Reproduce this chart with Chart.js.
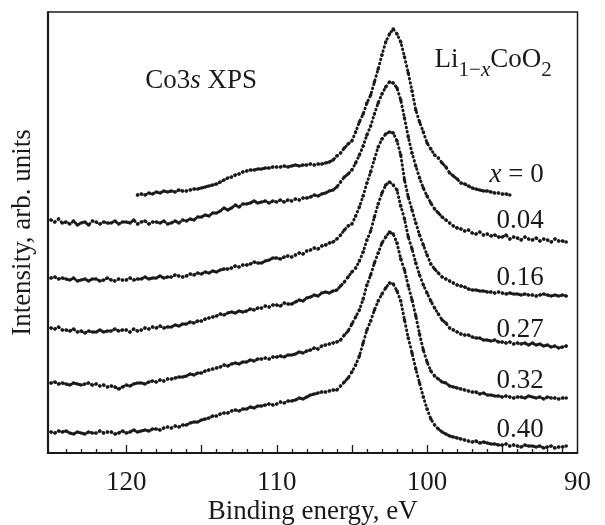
<!DOCTYPE html>
<html>
<head>
<meta charset="utf-8">
<title>Co3s XPS of Li1-xCoO2</title>
<script src="https://cdn.jsdelivr.net/npm/chart.js@4"></script>
<style>
  html, body { margin: 0; padding: 0; background: #fff; }
  #wrap { width: 605px; height: 525px; }
</style>
</head>
<body>
<div id="wrap"><canvas id="chart" width="605" height="525"></canvas></div>
<script>
'use strict';

// binding energy grid of the spectra, eV (125.0 down to 90.75 in 0.25 eV steps)
const energies = Array.from({ length: 138 }, (_, i) => 125 - 0.25 * i);

// series names (x in Li1-xCoO2)
const seriesNames = ['x = 0', '0.04', '0.16', '0.27', '0.32', '0.40'];

// intensity, arb. units (spectra stacked with offsets); 8 values per 2 eV row
const x000 = [
  null, null, null, null, null, null, null, null,
  null, null, null, null, null, null, null, null,
  null, null, null, null, null, null, null, 258,
  259, 258, 260, 259, 261, 260, 262, 261,
  262, 261, 263, 262, 262, 263, 264, 264,
  265, 266, 267, 268, 269, 271, 273, 275,
  276, 278, 279, 281, 282, 283, 283, 284,
  284, 285, 285, 286, 286, 286, 287, 286,
  287, 288, 287, 288, 288, 289, 288, 289,
  289, 290, 291, 293, 297, 300, 305, 309,
  312, 321, 331, 339, 350, 358, 371, 384,
  398, 411, 419, 424, 419, 411, 396, 380,
  362, 343, 331, 321, 310, 304, 298, 295,
  290, 286, 280, 277, 274, 270, 269, 267,
  265, 264, 263, 262, 262, 261, 260, 260,
  259, 259, 258, null, null, null, null, null,
  null, null, null, null, null, null, null, null,
  null, null
];
const x004 = [
  233, 231, 234, 230, 231, 229, 232, 228,
  230, 231, 228, 232, 231, 229, 231, 230,
  230, 232, 229, 231, 231, 230, 233, 229,
  231, 232, 229, 231, 231, 230, 232, 229,
  230, 232, 230, 233, 232, 234, 233, 236,
  236, 238, 237, 240, 240, 242, 245, 243,
  245, 248, 246, 249, 249, 250, 252, 250,
  251, 252, 250, 252, 251, 253, 251, 253,
  252, 254, 253, 255, 255, 256, 258, 257,
  259, 260, 262, 263, 266, 271, 276, 279,
  283, 290, 298, 307, 318, 327, 339, 350,
  359, 366, 371, 370, 365, 353, 335, 316,
  300, 287, 275, 265, 257, 250, 244, 240,
  236, 233, 230, 227, 225, 224, 222, 223,
  220, 219, 221, 218, 219, 217, 218, 216,
  216, 218, 214, 216, 215, 213, 216, 214,
  213, 215, 212, 214, 213, 211, 214, 212,
  212, 211
];
const x016 = [
  175, 176, 174, 175, 174, 173, 175, 172,
  173, 174, 172, 174, 174, 172, 173, 175,
  173, 172, 174, 173, 173, 175, 173, 174,
  174, 176, 174, 175, 175, 177, 175, 176,
  176, 178, 177, 176, 177, 179, 178, 180,
  179, 181, 180, 182, 181, 183, 184, 184,
  185, 187, 186, 188, 188, 189, 191, 190,
  190, 192, 193, 195, 195, 194, 196, 197,
  196, 198, 200, 199, 202, 203, 205, 204,
  207, 208, 210, 211, 214, 218, 223, 227,
  229, 237, 246, 257, 270, 281, 294, 306,
  314, 319, 321, 320, 312, 298, 273, 256,
  243, 230, 218, 208, 198, 189, 184, 180,
  176, 174, 172, 170, 168, 167, 166, 164,
  163, 163, 162, 162, 161, 161, 160, 161,
  160, 159, 160, 159, 159, 158, 159, 158,
  158, 157, 158, 159, 158, 157, 158, 157,
  158, 157
];
const x027 = [
  125, 124, 126, 123, 123, 122, 124, 121,
  122, 120, 122, 121, 121, 123, 121, 122,
  122, 124, 122, 123, 123, 121, 124, 122,
  123, 125, 124, 126, 125, 127, 125, 126,
  126, 128, 127, 129, 129, 131, 130, 132,
  132, 134, 135, 136, 137, 139, 138, 140,
  141, 140, 142, 141, 142, 144, 143, 145,
  145, 147, 146, 148, 148, 147, 150, 149,
  149, 151, 153, 152, 155, 156, 158, 157,
  160, 161, 160, 162, 163, 167, 171, 176,
  181, 185, 192, 201, 213, 222, 236, 249,
  260, 268, 271, 268, 263, 247, 234, 216,
  204, 190, 178, 168, 160, 152, 145, 139,
  133, 130, 125, 123, 121, 119, 118, 118,
  116, 115, 115, 113, 113, 112, 113, 111,
  111, 110, 111, 109, 110, 109, 110, 108,
  110, 108, 109, 107, 108, 106, 107, 105,
  106, 107
];
const x032 = [
  70, 71, 69, 70, 69, 68, 70, 69,
  68, 69, 70, 68, 69, 67, 68, 66,
  67, 66, 64, 66, 68, 67, 69, 70,
  70, 69, 71, 72, 71, 73, 72, 74,
  74, 75, 76, 76, 77, 79, 78, 80,
  80, 82, 83, 84, 85, 86, 88, 87,
  89, 90, 89, 91, 91, 93, 92, 94,
  94, 95, 94, 96, 96, 97, 96, 98,
  98, 99, 101, 100, 102, 103, 105, 104,
  107, 108, 109, 110, 111, 113, 118, 122,
  129, 136, 143, 154, 168, 178, 190, 200,
  210, 216, 221, 219, 210, 194, 183, 167,
  153, 137, 119, 103, 91, 82, 77, 74,
  71, 70, 67, 66, 65, 64, 63, 62,
  61, 61, 59, 60, 58, 58, 57, 57,
  56, 57, 56, 55, 56, 56, 55, 57,
  56, 55, 56, 54, 56, 55, 55, 54,
  55, 55
];
const x040 = [
  21, 20, 22, 21, 22, 20, 19, 21,
  20, 19, 21, 20, 20, 22, 20, 21,
  21, 19, 20, 22, 20, 21, 23, 21,
  22, 23, 22, 24, 24, 23, 25, 26,
  25, 27, 26, 28, 28, 30, 31, 31,
  33, 34, 35, 37, 37, 39, 40, 40,
  42, 43, 42, 44, 44, 46, 45, 47,
  47, 48, 49, 48, 49, 51, 50, 52,
  52, 53, 55, 54, 56, 58, 59, 60,
  61, 61, 62, 63, 63, 67, 71, 75,
  81, 88, 97, 110, 123, 132, 143, 152,
  159, 165, 170, 169, 162, 152, 133, 115,
  100, 84, 70, 56, 44, 34, 28, 24,
  21, 19, 17, 16, 15, 14, 13, 12,
  11, 12, 10, 11, 10, 9, 9, 8,
  8, 9, 7, 8, 7, 6, 8, 7,
  7, 6, 7, 5, 6, 7, 5, 6,
  6, 7
];

const seriesValues = [x000, x004, x016, x027, x032, x040];

const ink = '#1a1a1a';
const serif = '"Liberation Serif", "Times New Roman", serif';
const fontSize = 27;
Chart.defaults.font.family = serif;
Chart.defaults.color = ink;

function toPoints(values) {
  return energies
    .map((e, i) => ({ x: e, y: values[i] }))
    .filter(p => p.y !== null);
}

// draw a row of text pieces [text, size, italic, baselineShift]
function drawRuns(ctx, runs, x, y, align) {
  let fontOf = r => (r[2] ? 'italic ' : '') + r[1] + 'px ' + serif;
  let total = 0;
  runs.forEach(r => { ctx.font = fontOf(r); total += ctx.measureText(r[0]).width; });
  let cx = align === 'right' ? x - total : x;
  ctx.textAlign = 'left';
  ctx.textBaseline = 'alphabetic';
  runs.forEach(r => {
    ctx.font = fontOf(r);
    ctx.fillText(r[0], cx, y + (r[3] || 0));
    cx += ctx.measureText(r[0]).width;
  });
}

// inward tick marks on the energy axis plus the frame
const framePlugin = {
  id: 'frame',
  afterDatasetsDraw(chart) {
    const { ctx, chartArea: a, scales } = chart;
    ctx.save();
    ctx.strokeStyle = ink;
    ctx.lineWidth = 1.3;
    for (let v = 91; v <= 124; v++) {
      const px = Math.round(scales.x.getPixelForValue(v)) + 0.5;
      const len = v % 5 === 0 ? 8 : 4;
      ctx.beginPath();
      ctx.moveTo(px, a.bottom);
      ctx.lineTo(px, a.bottom - len);
      ctx.stroke();
    }
    ctx.lineWidth = 1.5;
    ctx.beginPath();
    ctx.moveTo(a.left, a.top);
    ctx.lineTo(a.right, a.top);
    ctx.lineTo(a.right, a.bottom);
    ctx.stroke();
    ctx.lineWidth = 2.2;
    ctx.beginPath();
    ctx.moveTo(a.left, a.top - 0.7);
    ctx.lineTo(a.left, a.bottom);
    ctx.lineTo(a.right + 0.7, a.bottom);
    ctx.stroke();
    ctx.restore();
  }
};

// series names and captions, placed in data coordinates
const labelPlugin = {
  id: 'labels',
  afterDraw(chart) {
    const { ctx, scales } = chart;
    const X = v => scales.x.getPixelForValue(v);
    const Y = v => scales.y.getPixelForValue(v);
    ctx.save();
    ctx.fillStyle = ink;
    const levels = [271, 225, 168, 116, 65, 16];
    seriesNames.forEach((name, i) => {
      const runs = name.startsWith('x')
        ? [['x', fontSize, true], [' = 0', fontSize, false]]
        : [[name, fontSize, false]];
      drawRuns(ctx, runs, X(92.25), Y(levels[i]), 'right');
    });
    drawRuns(ctx, [['Co3', fontSize, false], ['s', fontSize, true], [' XPS', fontSize, false]], X(118.73), Y(365), 'left');
    drawRuns(ctx, [
      ['Li', fontSize, false], ['1\u2212', 21, false, 9], ['x', 21, true, 9],
      ['CoO', fontSize, false], ['2', 21, false, 9]
    ], X(99.5), Y(386), 'left');
    ctx.restore();
  }
};

const datasets = seriesValues.map((values, i) => ({
  label: seriesNames[i],
  data: toPoints(values),
  showLine: true,
  borderColor: ink,
  borderWidth: 3,
  borderDash: [0.5, 3.8],
  borderCapStyle: 'round',
  backgroundColor: ink,
  pointRadius: 1.8,
  pointBorderWidth: 0,
  pointBackgroundColor: ink,
  tension: 0
}));

new Chart(document.getElementById('chart'), {
  type: 'scatter',
  data: { datasets: datasets },
  options: {
    responsive: false,
    animation: false,
    layout: { padding: { left: 0, right: 18, top: 12, bottom: 0 } },
    plugins: { legend: { display: false }, tooltip: { enabled: false } },
    scales: {
      x: {
        type: 'linear',
        reverse: true,
        min: 90,
        max: 125.2,
        grid: { display: false, drawTicks: false },
        border: { display: false },
        ticks: {
          stepSize: 1,
          autoSkip: false,
          maxRotation: 0,
          includeBounds: false,
          padding: 14,
          color: ink,
          font: { size: fontSize },
          callback: v => (v % 10 === 0 ? String(v) : '')
        },
        title: {
          display: true,
          text: 'Binding energy, eV',
          color: ink,
          font: { size: fontSize },
          padding: { top: 0, bottom: -3 }
        },
        afterFit: s => { s.height = 72; }
      },
      y: {
        min: 0,
        max: 441,
        grid: { display: false, drawTicks: false },
        border: { display: false },
        ticks: { display: false },
        title: {
          display: true,
          text: 'Intensity, arb. units',
          color: ink,
          font: { size: fontSize },
          padding: { top: 7, bottom: 0 }
        },
        afterFit: s => { s.width = 48; }
      }
    }
  },
  plugins: [framePlugin, labelPlugin]
});
</script>
</body>
</html>
